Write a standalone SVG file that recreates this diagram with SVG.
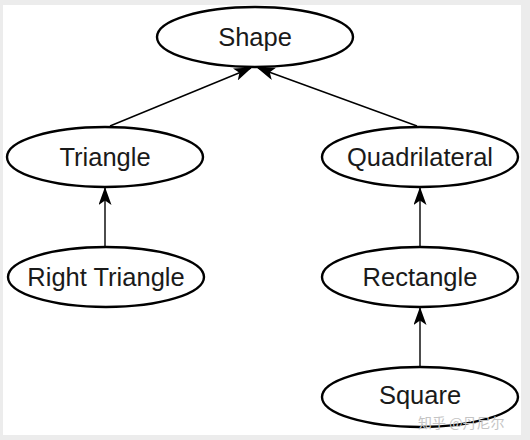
<svg xmlns="http://www.w3.org/2000/svg" width="530" height="440" viewBox="0 0 530 440">
<defs>
<marker id="arr" viewBox="0 0 18 13" refX="17" refY="6.5" markerWidth="18" markerHeight="13" markerUnits="userSpaceOnUse" orient="auto">
<path d="M0,0 L18,6.5 L0,13 L4.5,6.5 Z" fill="#000"/>
</marker>
</defs>
<style>
.node ellipse{fill:#fff;stroke:#000;stroke-width:2.4}
.node text{font-family:"Liberation Sans",Arial,sans-serif;font-size:25.5px;fill:#1a1a1a;text-anchor:middle}
#edges line{stroke:#000;stroke-width:1.4;marker-end:url(#arr)}
</style>
<rect x="0" y="0" width="530" height="440" fill="#ececec"/>
<rect x="3" y="5" width="518" height="430" fill="#fff"/>
<g id="edges">
<line x1="110" y1="126" x2="251" y2="68"/>
<line x1="417" y1="126" x2="258" y2="68"/>
<line x1="105" y1="246" x2="105" y2="188"/>
<line x1="420" y1="246" x2="420" y2="188"/>
<line x1="420" y1="366" x2="420" y2="308"/>
</g>
<g id="shape" class="node"><ellipse cx="255" cy="37" rx="98" ry="30"/><text x="255" y="46">Shape</text></g>
<g id="triangle" class="node"><ellipse cx="105" cy="157" rx="98" ry="30"/><text x="105" y="166">Triangle</text></g>
<g id="quadrilateral" class="node"><ellipse cx="420" cy="157" rx="98" ry="30"/><text x="420" y="166">Quadrilateral</text></g>
<g id="right-triangle" class="node"><ellipse cx="106" cy="277" rx="98" ry="30"/><text x="106" y="286">Right Triangle</text></g>
<g id="rectangle" class="node"><ellipse cx="420" cy="277" rx="98" ry="30"/><text x="420" y="286">Rectangle</text></g>
<g id="square" class="node"><ellipse cx="420" cy="397" rx="98" ry="30"/><text x="420" y="404">Square</text></g>
<text x="418" y="428" font-family="'Noto Sans CJK SC',sans-serif" font-size="14" fill="#c4c4c4">知乎 @丹尼尔</text>
</svg>
